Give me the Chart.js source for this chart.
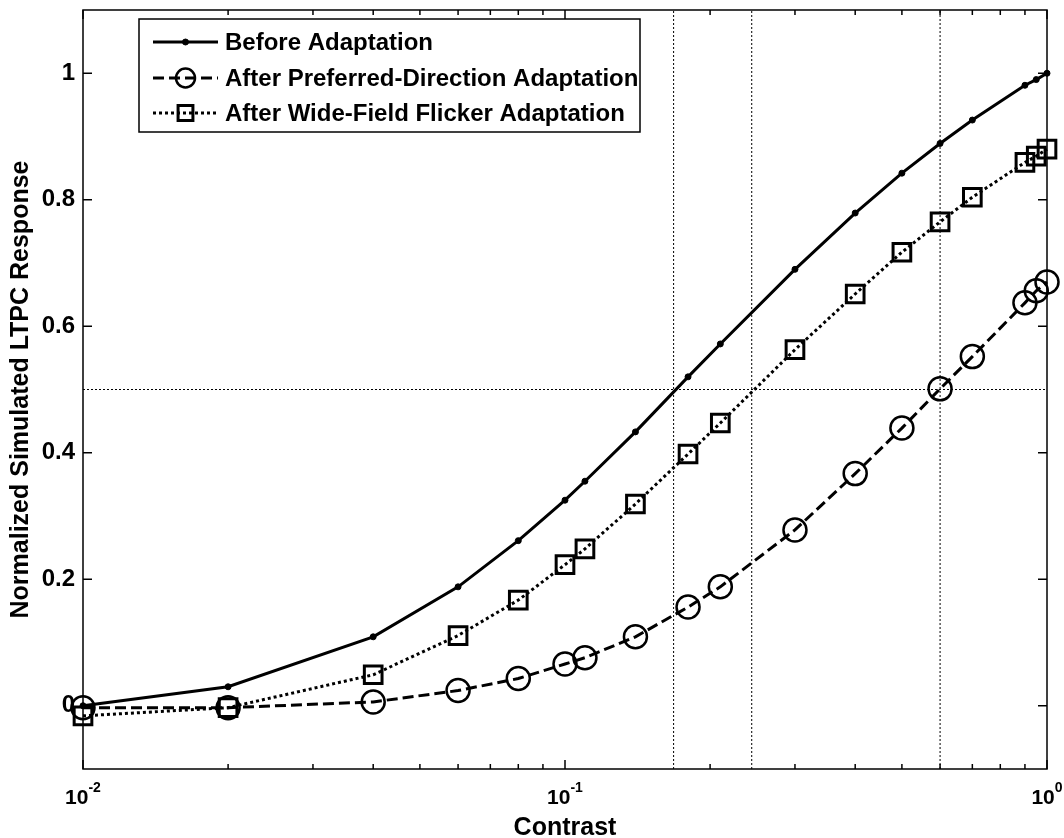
<!DOCTYPE html>
<html>
<head>
<meta charset="utf-8">
<script src="https://cdn.jsdelivr.net/npm/chart.js@4.4.0/dist/chart.umd.min.js"></script>
<style>
  html, body { margin: 0; padding: 0; background: #fff; }
</style>
</head>
<body>
<canvas id="chart" width="1064" height="838"></canvas>
<script>
// contrast levels (x) shared by the three curves
const contrast = [0.01, 0.02, 0.04, 0.06, 0.08, 0.1, 0.11, 0.14, 0.18, 0.21, 0.3, 0.4, 0.5, 0.6, 0.7, 0.9, 0.95, 1.0];
const beforeAdapt = [0.0, 0.030, 0.109, 0.188, 0.261, 0.325, 0.355, 0.433, 0.520, 0.572, 0.690, 0.779, 0.842, 0.889, 0.926, 0.981, 0.990, 1.0];
const prefDirAdapt = [-0.003, -0.003, 0.006, 0.024, 0.043, 0.066, 0.076, 0.109, 0.156, 0.188, 0.278, 0.367, 0.439, 0.501, 0.552, 0.637, 0.656, 0.670];
const flickerAdapt = [-0.016, -0.003, 0.049, 0.111, 0.167, 0.223, 0.248, 0.319, 0.398, 0.447, 0.563, 0.651, 0.717, 0.765, 0.804, 0.859, 0.869, 0.880];
const seriesNames = ['Before Adaptation', 'After Preferred-Direction Adaptation', 'After Wide-Field Flicker Adaptation'];

// half-response guide lines
const halfLevel = 0.5;
const halfContrast = [0.168, 0.244, 0.6];

// axes
const yMin = -0.1, yMax = 1.1;
const xMin = 0.01, xMax = 1;
const yTicks = [0, 0.2, 0.4, 0.6, 0.8, 1];
const xMajor = [0.01, 0.1, 1];
const xExponents = ['-2', '-1', '0'];
const xMinor = [0.02, 0.03, 0.04, 0.05, 0.06, 0.07, 0.08, 0.09, 0.2, 0.3, 0.4, 0.5, 0.6, 0.7, 0.8, 0.9];

const FONT = "'Liberation Sans', Arial, Helvetica, sans-serif";

function toPoints(ys) {
    return contrast.map((c, i) => ({ x: c, y: ys[i] }));
}

const datasets = [
    {
        label: seriesNames[0],
        data: toPoints(beforeAdapt),
        borderColor: '#000',
        backgroundColor: '#000',
        borderWidth: 3,
        pointStyle: 'circle',
        pointRadius: 3,
        pointBorderWidth: 1,
        clip: false
    },
    {
        label: seriesNames[1],
        data: toPoints(prefDirAdapt),
        borderColor: '#000',
        backgroundColor: 'rgba(0,0,0,0)',
        borderWidth: 3,
        borderDash: [11, 5],
        pointStyle: 'circle',
        pointRadius: 11.5,
        pointBorderWidth: 2.5,
        clip: false
    },
    {
        label: seriesNames[2],
        data: toPoints(flickerAdapt),
        borderColor: '#000',
        backgroundColor: 'rgba(0,0,0,0)',
        borderWidth: 3,
        borderDash: [3, 3],
        pointStyle: 'rect',
        pointRadius: 12.5,
        pointBorderWidth: 3,
        clip: false
    },
    {
        label: 'half',
        data: [{ x: xMin, y: halfLevel }, { x: xMax, y: halfLevel }],
        borderColor: '#000',
        borderWidth: 1,
        borderDash: [2, 2],
        pointRadius: 0
    }
];
halfContrast.forEach(c => {
    datasets.push({
        label: 'half',
        data: [{ x: c, y: yMin }, { x: c, y: yMax }],
        borderColor: '#000',
        borderWidth: 1,
        borderDash: [2, 2],
        pointRadius: 0
    });
});

// box, inward ticks, superscript x labels
const framePlugin = {
    id: 'frame',
    afterDatasetsDraw(chart) {
        const { ctx, chartArea: a, scales: { x, y } } = chart;
        ctx.save();
        ctx.strokeStyle = '#000';
        ctx.lineWidth = 1.5;
        ctx.setLineDash([]);
        ctx.strokeRect(a.left, a.top, a.right - a.left, a.bottom - a.top);

        function seg(x1, y1, x2, y2) {
            ctx.beginPath();
            ctx.moveTo(x1, y1);
            ctx.lineTo(x2, y2);
            ctx.stroke();
        }
        yTicks.forEach(v => {
            const py = y.getPixelForValue(v);
            seg(a.left, py, a.left + 9, py);
            seg(a.right, py, a.right - 9, py);
        });
        xMajor.forEach(v => {
            const px = x.getPixelForValue(v);
            seg(px, a.bottom, px, a.bottom - 9);
            seg(px, a.top, px, a.top + 9);
        });
        xMinor.forEach(v => {
            const px = x.getPixelForValue(v);
            seg(px, a.bottom, px, a.bottom - 5);
            seg(px, a.top, px, a.top + 5);
        });

        // 10^n labels
        ctx.fillStyle = '#000';
        ctx.textBaseline = 'alphabetic';
        ctx.textAlign = 'left';
        xMajor.forEach((v, i) => {
            const px = x.getPixelForValue(v);
            ctx.font = 'bold 21px ' + FONT;
            const wBase = ctx.measureText('10').width;
            ctx.font = 'bold 14px ' + FONT;
            const wExp = ctx.measureText(xExponents[i]).width;
            const start = px - (wBase + wExp) / 2;
            ctx.font = 'bold 21px ' + FONT;
            ctx.fillText('10', start, 804);
            ctx.font = 'bold 14px ' + FONT;
            ctx.fillText(xExponents[i], start + wBase, 792);
        });
        ctx.restore();
    }
};

// MATLAB-style legend box with line samples
const legendPlugin = {
    id: 'boxLegend',
    afterDraw(chart) {
        const ctx = chart.ctx;
        const box = { left: 139, top: 19, right: 640, bottom: 132 };
        const rows = [42, 78, 113];
        ctx.save();
        ctx.fillStyle = '#fff';
        ctx.fillRect(box.left, box.top, box.right - box.left, box.bottom - box.top);
        ctx.strokeStyle = '#000';
        ctx.lineWidth = 1.5;
        ctx.strokeRect(box.left, box.top, box.right - box.left, box.bottom - box.top);

        for (let i = 0; i < 3; i++) {
            const ds = chart.data.datasets[i];
            const ry = rows[i];
            ctx.strokeStyle = '#000';
            ctx.lineWidth = ds.borderWidth;
            ctx.setLineDash(ds.borderDash || []);
            ctx.beginPath();
            ctx.moveTo(153, ry);
            ctx.lineTo(218, ry);
            ctx.stroke();
            ctx.setLineDash([]);
            ctx.fillStyle = ds.backgroundColor;
            ctx.lineWidth = ds.pointBorderWidth;
            Chart.helpers.drawPoint(ctx, {
                pointStyle: ds.pointStyle,
                radius: i === 0 ? 3 : ds.pointRadius - 2,
                rotation: 0,
                borderWidth: ds.pointBorderWidth
            }, 185.5, ry);

            ctx.fillStyle = '#000';
            ctx.font = 'bold 24px ' + FONT;
            ctx.textBaseline = 'middle';
            ctx.textAlign = 'left';
            ctx.fillText(ds.label, 225, ry + 1);
        }
        ctx.restore();
    }
};

new Chart(document.getElementById('chart').getContext('2d'), {
    type: 'line',
    data: { datasets: datasets },
    plugins: [framePlugin, legendPlugin],
    options: {
        responsive: false,
        animation: false,
        devicePixelRatio: 1,
        layout: { autoPadding: false, padding: { top: 10, right: 17, left: 0, bottom: 0 } },
        plugins: {
            legend: { display: false },
            tooltip: { enabled: false }
        },
        scales: {
            x: {
                type: 'logarithmic',
                min: xMin,
                max: xMax,
                grid: { display: false, drawTicks: false },
                border: { display: false },
                ticks: { display: false },
                afterBuildTicks: s => { s.ticks = xMajor.map(v => ({ value: v })); },
                afterFit: s => { s.height = 69; s.paddingLeft = 0; s.paddingRight = 0; },
                title: {
                    display: true,
                    text: 'Contrast',
                    color: '#000',
                    font: { family: FONT, size: 25, weight: 'bold', lineHeight: 1 },
                    padding: { top: 0, bottom: -3 }
                }
            },
            y: {
                min: yMin,
                max: yMax,
                grid: { display: false, drawTicks: false },
                border: { display: false },
                ticks: {
                    color: '#000',
                    padding: 8,
                    font: { family: FONT, size: 24, weight: 'bold' },
                    callback: v => String(v)
                },
                afterBuildTicks: s => { s.ticks = yTicks.map(v => ({ value: v })); },
                afterFit: s => { s.width = 83; s.paddingTop = 0; s.paddingBottom = 0; },
                title: {
                    display: true,
                    text: 'Normalized Simulated LTPC Response',
                    color: '#000',
                    font: { family: FONT, size: 25, weight: 'bold', lineHeight: 1 },
                    padding: { top: 9, bottom: 0 }
                }
            }
        }
    }
});
</script>
</body>
</html>
